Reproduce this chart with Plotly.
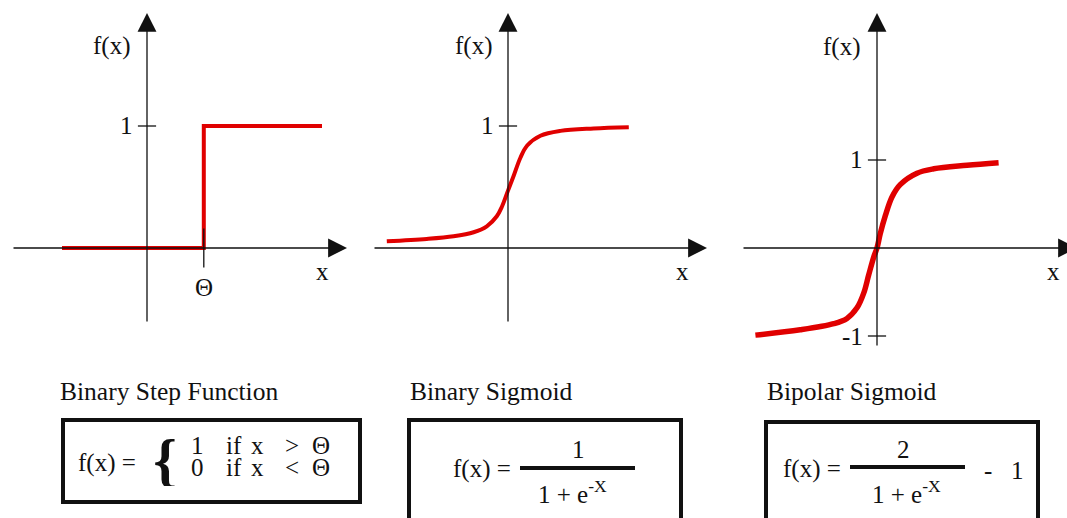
import plotly.graph_objects as go

W, H = 1067, 518
FONT = "Liberation Serif"
RED = "#e00000"

# datos
step_x = [-2.125, 1.42, 1.42, 4.375]
step_y = [0, 0, 1, 1]
theta = 1.42

binary_x = [-3.03, -2.03, -1.36, -0.86, -0.53, -0.28, -0.15, 0.0, 0.14, 0.31, 0.48, 0.81, 1.31, 2.14, 3.02]
binary_y = [0.055, 0.074, 0.096, 0.129, 0.178, 0.26, 0.34, 0.47, 0.59, 0.74, 0.84, 0.92, 0.96, 0.98, 0.99]

bipolar_x = [-3.04, -1.92, -1.08, -0.75, -0.5, -0.33, -0.21, -0.08, 0.0, 0.08, 0.21, 0.375, 0.58, 1.0, 1.42, 2.25, 3.04]
bipolar_y = [-0.99, -0.93, -0.86, -0.80, -0.68, -0.51, -0.31, -0.10, 0.0, 0.16, 0.37, 0.58, 0.72, 0.85, 0.90, 0.94, 0.97]

tick_vals = [[1], [1], [1, -1]]
tick_text = [["1"], ["1"], ["1", "-1"]]
titles = ["Binary Step Function", "Binary Sigmoid", "Bipolar Sigmoid"]

# geometría de cada panel en píxeles (origen, extremos de los ejes, escala y)
SX = 40
panels = [
    dict(ox=147, oy=248, left=12, right=347, top=13, bottom=323, sy=122, lw=4),
    dict(ox=508, oy=248, left=373, right=707, top=13, bottom=323, sy=122, lw=4),
    dict(ox=877, oy=248, left=742, right=1077, top=13, bottom=347, sy=88, lw=5.5),
]
curves = [(step_x, step_y), (binary_x, binary_y), (bipolar_x, bipolar_y)]


def px(x):
    return x / W


def py(y):
    return 1 - y / H


def label(text, x, y, size=25, xanchor="center", **kw):
    return dict(
        text=text, x=px(x), y=py(y), xref="paper", yref="paper",
        xanchor=xanchor, yanchor="middle", showarrow=False,
        font=dict(family=FONT, size=size, color="#111"), **kw
    )


fig = go.Figure()
annotations = []
shapes = []
layout = {}

for i, (p, (cx, cy)) in enumerate(zip(panels, curves), start=1):
    xn = "x" if i == 1 else f"x{i}"
    yn = "y" if i == 1 else f"y{i}"
    right = min(p["right"], W)
    x0 = (p["left"] - p["ox"]) / SX
    x1 = (right - p["ox"]) / SX
    x_tip = (p["right"] - p["ox"]) / SX
    y0 = (p["oy"] - p["bottom"]) / p["sy"]
    y1 = (p["oy"] - p["top"]) / p["sy"]

    layout["xaxis" if i == 1 else f"xaxis{i}"] = dict(
        domain=[px(p["left"]), px(right)], range=[x0, x1], anchor=yn,
        visible=False, fixedrange=True
    )
    layout["yaxis" if i == 1 else f"yaxis{i}"] = dict(
        domain=[py(p["bottom"]), py(p["top"])], range=[y0, y1], anchor=xn,
        visible=False, fixedrange=True
    )

    # ejes con flecha
    for hx, hy, tx, ty in [(x_tip, 0, x0, 0), (0, y1, 0, y0)]:
        annotations.append(dict(
            x=hx, y=hy, ax=tx, ay=ty, xref=xn, yref=yn, axref=xn, ayref=yn,
            text="", showarrow=True, arrowhead=2, arrowsize=2.9,
            arrowwidth=1.3, arrowcolor="#111", standoff=0
        ))

    # curva
    fig.add_trace(go.Scatter(
        x=cx, y=cy, mode="lines", xaxis=xn, yaxis=yn,
        line=dict(color=RED, width=p["lw"], shape="spline" if i > 1 else "linear"),
        hoverinfo="skip", showlegend=False
    ))

    # marcas del eje y
    fig.add_trace(go.Scatter(
        x=[0] * len(tick_vals[i - 1]), y=tick_vals[i - 1], mode="markers",
        xaxis=xn, yaxis=yn, cliponaxis=False,
        marker=dict(symbol="line-ew", size=13, line=dict(color="#111", width=1.3)),
        hoverinfo="skip", showlegend=False
    ))
    for v, t in zip(tick_vals[i - 1], tick_text[i - 1]):
        annotations.append(dict(
            text=t, x=0, y=v, xref=xn, yref=yn, xanchor="right", yanchor="middle",
            xshift=-12, showarrow=False, font=dict(family=FONT, size=25, color="#111")
        ))

# marca de theta en el escalón
fig.add_trace(go.Scatter(
    x=[theta], y=[0], mode="markers", xaxis="x", yaxis="y",
    marker=dict(symbol="line-ns", size=28, line=dict(color="#111", width=1.3)),
    hoverinfo="skip", showlegend=False
))
annotations.append(dict(
    text="Θ", x=theta, y=0, xref="x", yref="y", yshift=-39, showarrow=False,
    font=dict(family=FONT, size=25, color="#111")
))

# etiquetas de ejes
for fx, fy in [(111, 46), (473, 46), (841, 47)]:
    annotations.append(label("f(x)", fx, fy))
for lx in [322, 682, 1053]:
    annotations.append(label("x", lx, 271))

# títulos
for t, tx in zip(titles, [58, 408, 765]):
    annotations.append(label(t, tx, 391, size=25.5, xanchor="left"))

# cajas de fórmulas
for bx0, bx1, by0, by1 in [(63, 360, 420, 502), (409, 681, 420, 520), (766, 1038, 422, 520)]:
    shapes.append(dict(
        type="rect", xref="paper", yref="paper",
        x0=px(bx0), x1=px(bx1), y0=py(by1), y1=py(by0),
        line=dict(color="#111", width=4)
    ))
for lx0, lx1, ly in [(520, 635, 468), (850, 965, 467)]:
    shapes.append(dict(
        type="line", xref="paper", yref="paper",
        x0=px(lx0), x1=px(lx1), y0=py(ly), y1=py(ly),
        line=dict(color="#111", width=4)
    ))

# fórmula escalón
annotations.append(label("f(x) =", 107, 463))
annotations.append(label("<b>{</b>", 165, 460, size=60, width=22, height=52))
for row, ry in [(["1", "if", "x", ">", "Θ"], 445), (["0", "if", "x", "<", "Θ"], 467)]:
    for tok, tx in zip(row, [197, 234, 257, 292, 321]):
        annotations.append(label(tok, tx, ry, height=21))

# sigmoide binaria
annotations.append(label("f(x) =", 482, 469))
annotations.append(label("1", 578, 449))
annotations.append(label("1 + e<sup>-X</sup>", 572, 492))

# sigmoide bipolar
annotations.append(label("f(x) =", 812, 469))
annotations.append(label("2", 903, 449))
annotations.append(label("1 + e<sup>-X</sup>", 906, 492))
annotations.append(label("-", 988, 470))
annotations.append(label("1", 1017, 470))

fig.update_layout(
    width=W, height=H,
    margin=dict(l=0, r=0, t=0, b=0),
    paper_bgcolor="white", plot_bgcolor="white",
    showlegend=False,
    annotations=annotations, shapes=shapes,
    **layout
)

fig.write_html(
    "out.html",
    config={"displayModeBar": False},
    post_script="document.body.style.margin = '0';"
)
